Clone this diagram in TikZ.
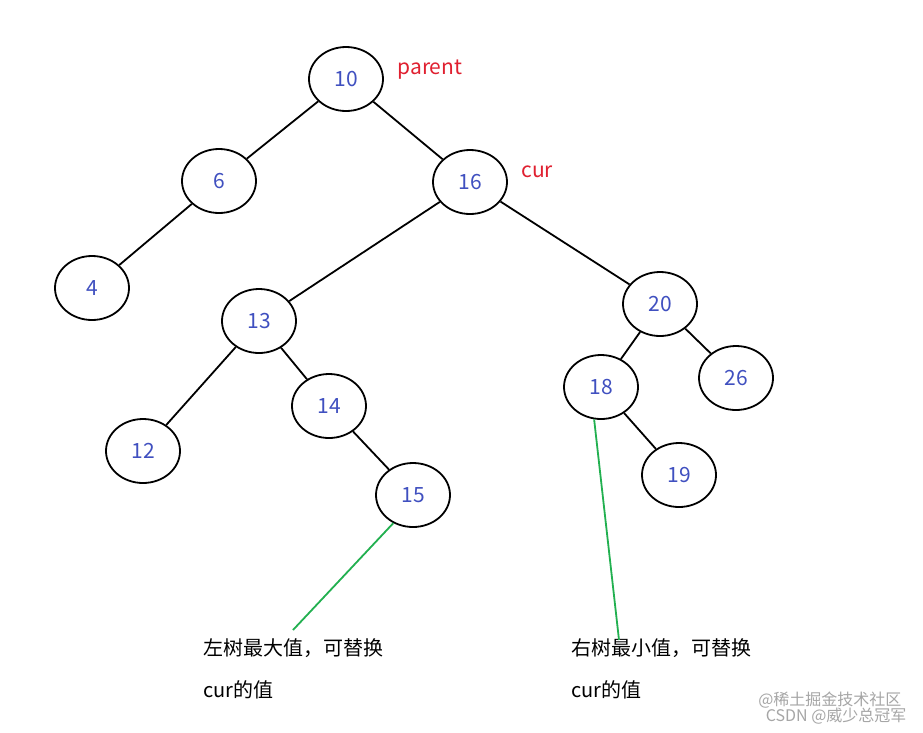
\documentclass[tikz,border=0pt]{standalone}
\usepackage{fontspec}
\setmainfont{Noto Sans CJK SC}
\usetikzlibrary{shapes.geometric}
\definecolor{numblue}{HTML}{4050C0}
\definecolor{lblred}{HTML}{E02030}
\definecolor{lgreen}{HTML}{22B050}
\tikzset{
  tn/.style={draw=black, line width=1.8pt, ellipse, minimum width=74pt, minimum height=64pt, inner sep=0pt, text=numblue, font=\fontsize{21}{21}\selectfont},
  edge/.style={line width=1.8pt, black},
  redlbl/.style={text=lblred, font=\fontsize{21}{21}\selectfont, anchor=west},
  note/.style={anchor=west, font=\fontsize{20}{20}\selectfont, align=left},
  gl/.style={lgreen, line width=1.8pt},
  wm/.style={text=gray!70, font=\fontsize{16}{16}\selectfont, anchor=east}
}
\begin{document}
\begin{tikzpicture}[x=1pt,y=-1pt]
\useasboundingbox[fill=white] (0,0) rectangle (923,732);
\node[tn] (n10) at (346,79) {10};
\node[tn] (n6) at (219,181) {6};
\node[tn] (n16) at (470,182) {16};
\node[tn] (n4) at (92,288) {4};
\node[tn] (n13) at (259,321) {13};
\node[tn] (n20) at (660,304) {20};
\node[tn] (n18) at (601,387) {18};
\node[tn] (n26) at (736,378) {26};
\node[tn] (n14) at (329,406) {14};
\node[tn] (n12) at (143,451) {12};
\node[tn] (n19) at (679,475) {19};
\node[tn] (n15) at (413,495) {15};
\draw[edge] (n10) -- (n6);
\draw[edge] (n10) -- (n16);
\draw[edge] (n6) -- (n4);
\draw[edge] (n16) -- (n13);
\draw[edge] (n16) -- (n20);
\draw[edge] (n13) -- (n12);
\draw[edge] (n13) -- (n14);
\draw[edge] (n14) -- (n15);
\draw[edge] (n20) -- (n18);
\draw[edge] (n20) -- (n26);
\draw[edge] (n18) -- (n19);
\node[redlbl] (lp) at (394,70) {parent};
\node[redlbl] (lc) at (518,172) {cur};
\node[note] (tl1) at (200,648) {左树最大值，可替换};
\node[note] (tl2) at (200,690) {cur的值};
\node[note] (tr1) at (568,648) {右树最小值，可替换};
\node[note] (tr2) at (568,690) {cur的值};
\coordinate (g1) at (293,630);
\coordinate (g2) at (619,640);
\draw[gl] (n15.235) -- (g1);
\draw[gl] (n18.258) -- (g2);
\node[wm] (w1) at (905,700) {@稀土掘金技术社区};
\node[wm] (w2) at (910,716) {CSDN @威少总冠军};
\end{tikzpicture}
\end{document}
